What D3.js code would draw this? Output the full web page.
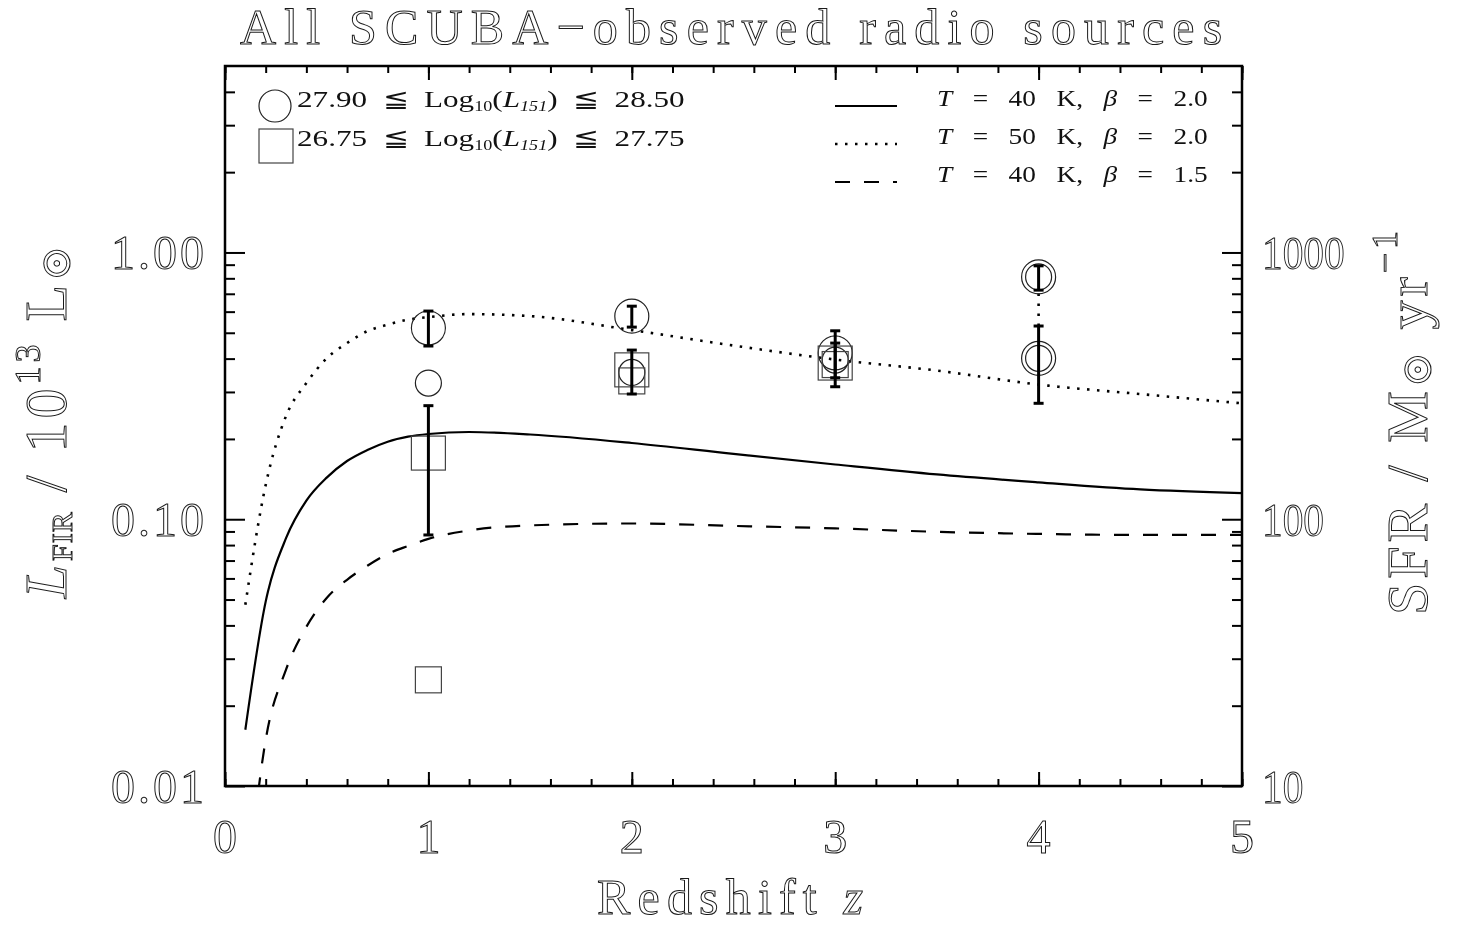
<!DOCTYPE html>
<html><head><meta charset="utf-8">
<script src="https://cdn.jsdelivr.net/npm/d3@7"></script>
<style>
body{margin:0;background:#fff}
svg{display:block;background:#fff}
.hollow{fill:#fff;stroke:#1a1a1a;stroke-width:1}
.pre{white-space:pre}
</style>
</head><body>
<svg id="chart" width="1473" height="926"></svg>
<script>
// ---- data ----
const zGrid = [0.1,0.2,0.3,0.4,0.5,0.6,0.7,0.8,0.9,1.0,1.2,1.5,2.0,2.5,3.0,3.5,4.0,4.5,5.0];
const modelT40b20 = [0.01625,0.0491,0.0849,0.1174,0.1432,0.1653,0.1818,0.1953,0.2039,0.2087,0.2123,0.2078,0.1931,0.1757,0.1604,0.1472,0.1374,0.1293,0.1252];
const modelT50b20 = [0.0478,0.1344,0.2437,0.3239,0.4009,0.4574,0.5072,0.5365,0.5601,0.5724,0.5874,0.5774,0.5117,0.4477,0.3967,0.3608,0.3197,0.2946,0.2719];
const modelT40b15 = [0.0035,0.0149,0.0273,0.0395,0.0507,0.0593,0.0669,0.0741,0.0794,0.0844,0.0908,0.0948,0.0964,0.0944,0.0924,0.0897,0.0881,0.0873,0.0873];
const modelLabels = ["T40b20","T50b20","T40b15"];

const bigCircleZ   = [1, 2, 3, 4, 4];
const bigCircleL   = [0.521, 0.577, 0.420, 0.810, 0.401];
const smallCircleZ = [1, 2, 3, 4, 4];
const smallCircleL = [0.324, 0.355, 0.395, 0.810, 0.401];
const bigSquareZ   = [1, 2, 3];
const bigSquareL   = [0.177, 0.363, 0.385];
const smallSquareZ = [1, 2, 3];
const smallSquareL = [0.025, 0.330, 0.380];

const errZ  = [1, 1, 2, 2, 3, 3, 4, 4];
const errLo = [0.446, 0.0873, 0.525, 0.2947, 0.3138, 0.3391, 0.7224, 0.272];
const errHi = [0.603, 0.2665, 0.629, 0.4306, 0.5086, 0.4574, 0.891, 0.530];
const linkZ = [4], linkLo = [0.530], linkHi = [0.7224];

const xTickValues = [0,1,2,3,4,5];
const xTickLabels = ["0","1","2","3","4","5"];
const yTickValues = [0.01, 0.1, 1];
const yTickLabels = ["0.01","0.10","1.00"];
const sfrTickLabels = ["10","100","1000"];

// ---- layout ----
const svg = d3.select("#chart");
const X0 = 225, X1 = 1242, Y0 = 66, Y1 = 786;
const x = d3.scaleLinear().domain([0,5]).range([X0,X1]);
const y = d3.scaleLog().domain([0.01,5]).range([Y1,Y0]);
const serif = "'Liberation Serif','DejaVu Serif',serif";

function fitSpacing(sel, target){
  const n = sel.text().length;
  const w = sel.node().getComputedTextLength();
  sel.attr("letter-spacing", ((target - w) / Math.max(1, n - 1)).toFixed(2));
}
function fitStretch(sel, x0, yb, target){
  const w = sel.node().getComputedTextLength();
  const s = target / w;
  sel.attr("x",0).attr("y",0).attr("transform",`translate(${x0},${yb}) scale(${s.toFixed(3)},1)`);
}

const defs = svg.append("defs");
defs.append("clipPath").attr("id","plotclip")
  .append("rect").attr("x",X0).attr("y",Y0).attr("width",X1-X0).attr("height",Y1-Y0);
defs.append("filter").attr("id","gray").attr("x","-10%").attr("y","-10%").attr("width","120%").attr("height","120%")
  .append("feColorMatrix").attr("type","saturate").attr("values","0");

// minor ticks
const xMinor = d3.range(0,5.0001,0.2);
const yMinor = [];
[0.01,0.1,1].forEach(d => { for (let k=2;k<=9;k++){ const v=d*k; if (v<5) yMinor.push(v);} });

const axes = svg.append("g").attr("stroke","#000").attr("fill","none");
axes.append("g").attr("transform",`translate(0,${Y1})`)
  .call(d3.axisBottom(x).tickValues(xMinor).tickSize(-7).tickFormat(""));
axes.append("g").attr("transform",`translate(0,${Y1})`)
  .call(d3.axisBottom(x).tickValues(xTickValues).tickSize(-14).tickFormat(""));
axes.append("g").attr("transform",`translate(0,${Y0})`)
  .call(d3.axisTop(x).tickValues(xMinor).tickSize(-7).tickFormat(""));
axes.append("g").attr("transform",`translate(0,${Y0})`)
  .call(d3.axisTop(x).tickValues(xTickValues).tickSize(-14).tickFormat(""));
axes.append("g").attr("transform",`translate(${X0},0)`)
  .call(d3.axisLeft(y).tickValues(yMinor).tickSize(-10).tickFormat(""));
axes.append("g").attr("transform",`translate(${X0},0)`)
  .call(d3.axisLeft(y).tickValues(yTickValues).tickSize(-20).tickFormat(""));
axes.append("g").attr("transform",`translate(${X1},0)`)
  .call(d3.axisRight(y).tickValues(yMinor).tickSize(-10).tickFormat(""));
axes.append("g").attr("transform",`translate(${X1},0)`)
  .call(d3.axisRight(y).tickValues(yTickValues).tickSize(-20).tickFormat(""));
axes.selectAll(".domain").remove();
axes.selectAll(".tick line").attr("stroke","#000").attr("stroke-width",2);
svg.append("rect").attr("x",X0).attr("y",Y0).attr("width",X1-X0).attr("height",Y1-Y0)
  .attr("fill","none").attr("stroke","#000").attr("stroke-width",2.5);

// all outlined (hollow) texts go into one grayscale-filtered group
const tg = svg.append("g").attr("filter","url(#gray)");

// tick labels
const lab = tg.append("g").attr("font-family",serif).attr("font-size",48);
lab.selectAll(".xl").data(xTickValues).enter().append("text").attr("class","hollow")
  .attr("x",d=>x(d)).attr("y",853).attr("text-anchor","middle").text((d,i)=>xTickLabels[i]);
lab.selectAll(".yl").data(yTickValues).enter().append("text").attr("class","hollow")
  .attr("x",207).attr("y",d=>y(d)+17).attr("text-anchor","end").attr("letter-spacing",3)
  .text((d,i)=>yTickLabels[i]);
lab.selectAll(".sl").data(yTickValues).enter().append("text").attr("class","hollow")
  .attr("x",0).attr("y",0).attr("text-anchor","start").attr("font-size",47)
  .attr("transform",d=>`translate(1262,${y(d)+17}) scale(0.88,1)`)
  .text((d,i)=>sfrTickLabels[i]);

// title
const title = tg.append("text").attr("class","hollow").attr("font-family",serif).attr("font-size",50)
  .attr("x",240).attr("y",44).text("All SCUBA\u2212observed radio sources");
fitSpacing(title, 982);

// x label
const xl = tg.append("text").attr("class","hollow").attr("font-family",serif).attr("font-size",50)
  .attr("x",597).attr("y",914);
xl.append("tspan").text("Redshift ");
xl.append("tspan").attr("font-style","italic").text("z");
fitSpacing(xl, 266);

// y label left
const yl = tg.append("text").attr("class","hollow").attr("font-family",serif).attr("font-size",60)
  .attr("letter-spacing",4)
  .attr("transform","translate(66,420) rotate(-90)").attr("text-anchor","middle");
yl.append("tspan").attr("font-style","italic").text("L");
yl.append("tspan").attr("font-size",30).attr("dy",6).attr("letter-spacing",1).text("FIR");
yl.append("tspan").attr("dy",-6).text(" / 10");
yl.append("tspan").attr("font-size",36).attr("dy",-26).text("13");
yl.append("tspan").attr("dy",26).text(" L");
yl.append("tspan").attr("font-size",42).attr("dy",4).text("\u2299");

// y label right
const yr = tg.append("text").attr("class","hollow").attr("font-family",serif).attr("font-size",58)
  .attr("letter-spacing",4)
  .attr("transform","translate(1427,421) rotate(-90)").attr("text-anchor","middle");
yr.append("tspan").text("SFR / M");
yr.append("tspan").attr("font-size",42).attr("dy",4).text("\u2299");
yr.append("tspan").attr("dy",-4).text(" yr");
yr.append("tspan").attr("font-size",36).attr("dy",-30).text("\u22121");

// model curves
const line = d3.line().x(d=>x(d[0])).y(d=>y(d[1])).curve(d3.curveMonotoneX);
const curves = svg.append("g").attr("clip-path","url(#plotclip)").attr("fill","none").attr("stroke","#000");
const styles = {T40b20:{w:2.2,dash:null}, T50b20:{w:2.6,dash:"2.5,7.5"}, T40b15:{w:2.2,dash:"15,14"}};
[modelT40b20, modelT50b20, modelT40b15].forEach((arr,i)=>{
  const st = styles[modelLabels[i]];
  curves.append("path").datum(zGrid.map((z,j)=>[z,arr[j]])).attr("d",line)
    .attr("stroke-width",st.w).attr("stroke-dasharray",st.dash);
});
curves.selectAll(".lnk").data(linkZ).enter().append("line")
  .attr("x1",d=>x(d)).attr("x2",d=>x(d)).attr("y1",(d,i)=>y(linkLo[i])).attr("y2",(d,i)=>y(linkHi[i]))
  .attr("stroke-width",2.6).attr("stroke-dasharray","2.5,7.5");

// markers
const mk = svg.append("g").attr("fill","none").attr("stroke","#222").attr("stroke-width",1.2);
mk.selectAll(".bc").data(bigCircleZ).enter().append("circle")
  .attr("cx",d=>x(d)).attr("cy",(d,i)=>y(bigCircleL[i])).attr("r",17);
mk.selectAll(".sc").data(smallCircleZ).enter().append("circle")
  .attr("cx",d=>x(d)).attr("cy",(d,i)=>y(smallCircleL[i])).attr("r",13);
mk.selectAll(".bs").data(bigSquareZ).enter().append("rect")
  .attr("x",d=>x(d)-17).attr("y",(d,i)=>y(bigSquareL[i])-17).attr("width",34).attr("height",34).attr("stroke","#444");
mk.selectAll(".ss").data(smallSquareZ).enter().append("rect")
  .attr("x",d=>x(d)-13).attr("y",(d,i)=>y(smallSquareL[i])-13).attr("width",26).attr("height",26).attr("stroke","#444");

// error bars
const eb = svg.append("g").attr("stroke","#000").attr("stroke-width",3);
errZ.forEach((z,i)=>{
  const cx = x(z), y1 = y(errLo[i]), y2 = y(errHi[i]);
  eb.append("line").attr("x1",cx).attr("x2",cx).attr("y1",y1).attr("y2",y2);
  eb.append("line").attr("x1",cx-5).attr("x2",cx+5).attr("y1",y1).attr("y2",y1);
  eb.append("line").attr("x1",cx-5).attr("x2",cx+5).attr("y1",y2).attr("y2",y2);
});

// legend left (symbols)
const lg = svg.append("g");
lg.append("circle").attr("cx",275).attr("cy",106).attr("r",16).attr("fill","none").attr("stroke","#222").attr("stroke-width",1.2);
lg.append("rect").attr("x",259).attr("y",129).attr("width",34).attr("height",34).attr("fill","none").attr("stroke","#444").attr("stroke-width",1.2);
function lumText(yb, lo, hi){
  const t = lg.append("text").attr("class","pre").attr("font-family",serif).attr("font-size",24).attr("fill","#111");
  t.append("tspan").text(lo+"  \u2266  Log");
  t.append("tspan").attr("font-size",14).attr("dy",4).text("10");
  t.append("tspan").attr("dy",-4).text("(");
  t.append("tspan").attr("font-style","italic").text("L");
  t.append("tspan").attr("font-style","italic").attr("font-size",14).attr("dy",4).text("151");
  t.append("tspan").attr("dy",-4).text(")  \u2266  "+hi);
  fitStretch(t, 297, yb, 388);
}
lumText(107,"27.90","28.50");
lumText(146,"26.75","27.75");

// legend right (lines)
const legRows = [{y:106,t:"40",b:"2.0",k:"T40b20"},{y:144,t:"50",b:"2.0",k:"T50b20"},{y:182,t:"40",b:"1.5",k:"T40b15"}];
legRows.forEach(r=>{
  const st = styles[r.k];
  lg.append("line").attr("x1",835).attr("x2",897).attr("y1",r.y).attr("y2",r.y)
    .attr("stroke","#000").attr("stroke-width",st.w).attr("stroke-dasharray",st.dash);
  const t = lg.append("text").attr("class","pre").attr("font-family",serif).attr("font-size",23).attr("fill","#111");
  t.append("tspan").attr("font-style","italic").text("T");
  t.append("tspan").text("   =   "+r.t+"   K,   ");
  t.append("tspan").attr("font-style","italic").text("\u03b2");
  t.append("tspan").text("   =   "+r.b);
  fitStretch(t, 937, r.y, 271);
});
</script>
</body></html>
